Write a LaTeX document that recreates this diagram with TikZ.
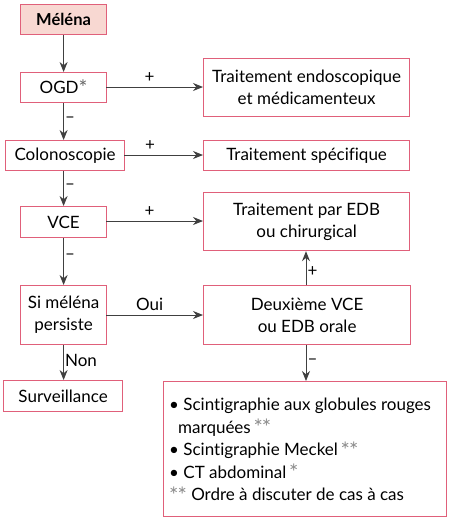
\documentclass[tikz,border=0pt]{standalone}
\usepackage{fontspec}
\setmainfont{Lato}[Ligatures={NoCommon,NoContextual}]
\usetikzlibrary{arrows.meta}
\definecolor{bord}{HTML}{E0607A}
\definecolor{rose}{HTML}{F8D8D2}
\definecolor{fleche}{HTML}{404040}
\definecolor{etoile}{HTML}{8A8A8A}
\newcommand{\etl}{\textcolor{etoile}{\fontsize{22}{22}\selectfont\raisebox{-2.5pt}{*}}}
\newcommand{\etlogd}{\textcolor{fleche!80}{\fontsize{21}{21}\selectfont\raisebox{-2pt}{*}}}
\newcommand{\scinti}{Scint\kern0pt igraphie}
\begin{document}
\begin{tikzpicture}[x=1pt,y=-1pt,
  boite/.style={draw=bord,line width=1.2pt,inner sep=0pt,anchor=north west,align=center,font=\fontsize{17}{22}\selectfont},
  fl/.style={draw=fleche,line width=1pt,-{Stealth[length=10pt,width=8pt]}},
  lab/.style={font=\fontsize{17}{18}\selectfont,inner sep=1pt}]
\useasboundingbox (0,0) rectangle (454,520);
\node[boite,fill=rose,minimum width=86pt,minimum height=30pt,font=\fontsize{16.5}{18}\bfseries] (mel) at (20,4) {Méléna};
\node[boite,minimum width=86pt,minimum height=30pt] (ogd) at (20,72) {OGD\etlogd};
\node[boite,minimum width=119pt,minimum height=30pt] (colo) at (5,140) {Colonoscopie};
\node[boite,minimum width=86pt,minimum height=31pt] (vce) at (20,206) {VCE};
\node[boite,minimum width=86pt,minimum height=59pt] (si) at (20,285) {Si méléna\\persiste};
\node[boite,minimum width=119pt,minimum height=31pt] (surv) at (3,380) {Surveillance};
\node[boite,minimum width=206pt,minimum height=58pt] (endo) at (203,58) {Traitement endoscopique\\et médicamenteux};
\node[boite,minimum width=206pt,minimum height=30pt] (spec) at (203,140) {Traitement spécifique};
\node[boite,minimum width=206pt,minimum height=58pt] (edb) at (203,192) {Traitement par EDB\\ou chirurgical};
\node[boite,minimum width=207pt,minimum height=59pt] (deux) at (203,285) {Deuxième VCE\\ou EDB orale};
\node[boite,minimum width=283pt,minimum height=135pt] (scin) at (163,381) {};
\node[anchor=north west,align=left,inner sep=0pt,font=\fontsize{17}{22.5}\selectfont] (scintxt) at (169,398) {%
• \scinti{} aux globules rouges\\
\hspace*{9pt}marquées\,\etl\kern-1pt\etl\\
• \scinti{} Meckel\,\etl\kern-1pt\etl\\
• CT abdominal\,\etl\\
\etl\kern-1pt\etl\ Ordre à discuter de cas à cas};
\coordinate (ogdR) at (106,87);
\coordinate (endoL) at (203,87);
\coordinate (coloR) at (124,155);
\coordinate (specL) at (203,155);
\coordinate (vceR) at (106,221);
\coordinate (edbL) at (203,221);
\coordinate (siR) at (106,315);
\coordinate (deuxL) at (203,315);
\draw[fl] (mel.south) -- (ogd.north);
\draw[fl] (ogd.south) -- node[lab,right,pos=0.45]{–} (ogd.south |- colo.north);
\draw[fl] (ogd.south |- colo.south) -- node[lab,right,pos=0.45]{–} (vce.north);
\draw[fl] (vce.south) -- node[lab,right,pos=0.4]{–} (si.north);
\draw[fl] (si.south) -- node[lab,right,pos=0.45]{Non} (si.south |- surv.north);
\draw[fl] (ogdR) -- node[lab,above=3pt,pos=0.45]{+} (endoL);
\draw[fl] (coloR) -- node[lab,above=3pt,pos=0.33]{+} (specL);
\draw[fl] (vceR) -- node[lab,above=3pt,pos=0.45]{+} (edbL);
\draw[fl] (siR) -- node[lab,above=3pt,pos=0.45]{Oui} (deuxL);
\draw[fl] (deux.north -| 306,0) -- node[lab,right,pos=0.4]{+} (edb.south -| 306,0);
\draw[fl] (deux.south -| 306,0) -- node[lab,right,pos=0.45]{–} (scin.north -| 306,0);
\end{tikzpicture}
\end{document}
